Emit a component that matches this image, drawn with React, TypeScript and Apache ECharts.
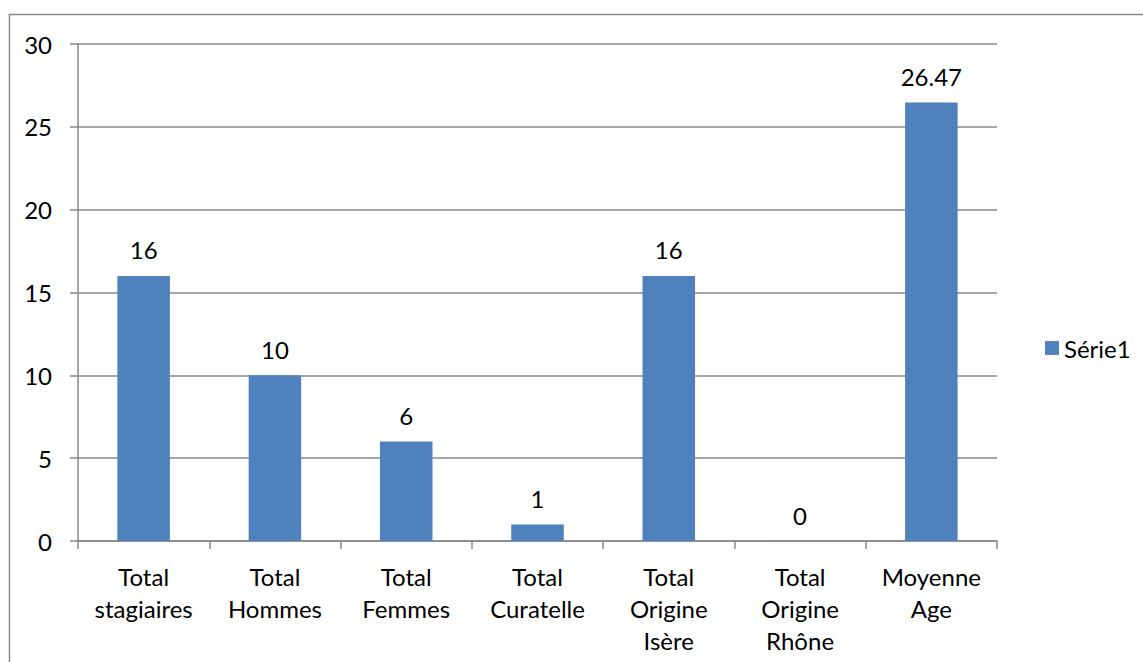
import React, { useEffect, useRef } from "react";
import * as echarts from "echarts";

const categories = [
  "Total\nstagiaires",
  "Total\nHommes",
  "Total\nFemmes",
  "Total\nCuratelle",
  "Total\nOrigine\nIsère",
  "Total\nOrigine\nRhône",
  "Moyenne\nAge",
];
const values = [16, 10, 6, 1, 16, 0, 26.47];
const seriesName = "Série1";
const yTicks = { min: 0, max: 30, interval: 5 };

const FONT = "Lato, 'Open Sans', 'Liberation Sans', sans-serif";
const FS = 24;

export default function App() {
  const ref = useRef<HTMLDivElement>(null);
  useEffect(() => {
    document.body.style.margin = "0";
    const chart = echarts.init(ref.current!, undefined, { renderer: "svg" });
    chart.setOption({
      animation: false,
      backgroundColor: "#ffffff",
      textStyle: { fontFamily: FONT },
      graphic: [
        {
          type: "rect",
          shape: { x: 9.5, y: 14.5, width: 1200, height: 700 },
          style: { fill: "none", stroke: "#898989", lineWidth: 1.5 },
          silent: true,
          z: -1,
        },
      ],
      legend: {
        left: 1040,
        top: 331,
        orient: "vertical",
        itemWidth: 14,
        itemHeight: 14,
        itemGap: 6,
        icon: "rect",
        textStyle: { fontSize: FS, color: "#000", fontFamily: FONT },
        data: [seriesName],
      },
      grid: { left: 78, top: 44, right: 146, bottom: 121, containLabel: false },
      xAxis: {
        type: "category",
        data: categories,
        axisLine: { lineStyle: { color: "#888", width: 1.5 } },
        axisTick: { show: true, length: 8, alignWithLabel: false, lineStyle: { color: "#888", width: 1.5 } },
        axisLabel: {
          interval: 0,
          fontSize: FS,
          color: "#000",
          lineHeight: 32,
          margin: 19,
          fontFamily: FONT,
        },
      },
      yAxis: {
        type: "value",
        min: yTicks.min,
        max: yTicks.max,
        interval: yTicks.interval,
        axisLine: { show: true, lineStyle: { color: "#888", width: 1.5 } },
        axisTick: { show: true, length: 8, lineStyle: { color: "#888", width: 1.5 } },
        splitLine: { lineStyle: { color: "#888", width: 1.5 } },
        axisLabel: { fontSize: FS, color: "#000", margin: 26, fontFamily: FONT },
      },
      series: [
        {
          name: seriesName,
          type: "bar",
          data: values,
          barWidth: "40%",
          itemStyle: { color: "#4F81BD" },
          label: {
            show: true,
            position: "top",
            distance: 14,
            fontSize: FS,
            color: "#000",
            fontFamily: FONT,
          },
        },
      ],
    });
    return () => chart.dispose();
  }, []);
  return <div ref={ref} style={{ width: 1143, height: 662 }} />;
}
